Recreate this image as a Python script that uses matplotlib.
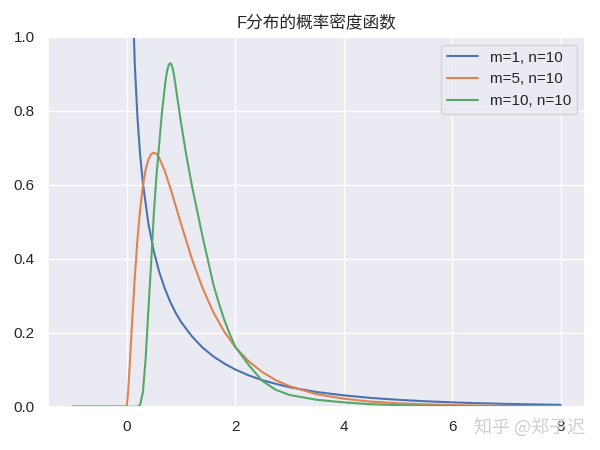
import numpy as np
import matplotlib
matplotlib.use('Agg')
import matplotlib.pyplot as plt
import seaborn as sns

sns.set_theme()
plt.rcParams['font.family'] = ['Liberation Sans', 'Noto Sans CJK SC', 'DejaVu Sans']
plt.rcParams['axes.unicode_minus'] = False

# m=1, n=10 (nan marks the gap at x=0 where the density blows up)
x_blue = [-1.0, -0.01, np.nan, 0.02, 0.05, 0.1, 0.15, 0.2, 0.25, 0.3, 0.4, 0.5, 0.6, 0.7, 0.8, 0.9,
          1.0, 1.2, 1.4, 1.6, 1.8, 2.0, 2.25, 2.5, 2.75, 3.0, 3.5, 4.0, 4.5, 5.0, 5.5,
          6.0, 6.5, 7.0, 7.5, 8.0]
y_blue = [0.0, 0.0, np.nan, 2.721, 1.693, 1.165, 0.926, 0.780, 0.679, 0.604, 0.496, 0.421, 0.365,
          0.321, 0.285, 0.255, 0.230, 0.191, 0.160, 0.136, 0.117, 0.101, 0.085, 0.072,
          0.062, 0.053, 0.040, 0.031, 0.024, 0.019, 0.015, 0.012, 0.0097, 0.0079,
          0.0065, 0.0054]

# m=5, n=10
x_orange = [-1.0, 0.0, 0.02, 0.05, 0.1, 0.15, 0.2, 0.25, 0.3, 0.35, 0.4, 0.45, 0.5, 0.55, 0.6,
            0.7, 0.8, 0.9, 1.0, 1.2, 1.4, 1.6, 1.8, 2.0, 2.25, 2.5, 2.75, 3.0, 3.5,
            4.0, 4.5, 5.0, 5.5, 6.0, 6.5, 7.0, 7.5, 8.0]
y_orange = [0.0, 0.0, 0.027, 0.096, 0.227, 0.350, 0.454, 0.536, 0.597, 0.641, 0.668, 0.683,
            0.687, 0.684, 0.673, 0.639, 0.594, 0.545, 0.496, 0.401, 0.321, 0.255, 0.203,
            0.162, 0.123, 0.094, 0.072, 0.056, 0.034, 0.022, 0.014, 0.0096, 0.0066,
            0.0046, 0.0033, 0.0024, 0.0018, 0.0013]

# m=10, n=10
x_green = [-1.0, 0.0, 0.2, 0.25, 0.3, 0.35, 0.4, 0.45, 0.5, 0.55, 0.6, 0.65, 0.7, 0.725, 0.75,
           0.775, 0.8, 0.825, 0.85, 0.875, 0.9, 0.95, 1.0, 1.05, 1.1, 1.2, 1.3, 1.4, 1.5,
           1.6, 1.7, 1.8, 1.9, 2.0, 2.25, 2.5, 2.75, 3.0, 3.5, 4.0, 4.5, 5.0, 5.5, 6.0,
           6.5, 7.0, 7.5, 8.0]
y_green = [0.0, 0.0, 0.0, 0.006, 0.04, 0.13, 0.26, 0.385, 0.52, 0.625, 0.71, 0.795, 0.86, 0.89,
           0.911, 0.924, 0.929, 0.926, 0.914, 0.895, 0.87, 0.82, 0.77, 0.725, 0.68, 0.60,
           0.53, 0.46, 0.395, 0.33, 0.28, 0.235, 0.197, 0.163, 0.113, 0.07, 0.046, 0.032,
           0.019, 0.012, 0.007, 0.0045, 0.003, 0.002, 0.0013, 0.001, 0.0007, 0.0005]

labels = ['m=1, n=10', 'm=5, n=10', 'm=10, n=10']

fig = plt.figure(figsize=(6, 4.5), dpi=100)
ax = fig.add_axes([0.08, 0.096, 0.895, 0.822])
ax.plot(x_blue, y_blue, label=labels[0])
ax.plot(x_orange, y_orange, label=labels[1])
ax.plot(x_green, y_green, label=labels[2])
ax.set_ylim(0, 1)
ax.set_xticks([0, 2, 4, 6, 8])
ax.set_title('F分布的概率密度函数', fontsize=12)
ax.legend(loc='upper right')

fig.text(0.975, 0.05, '知乎 @郑子迟', ha='right', va='center', fontsize=13,
         color='#cfcfcf', family=['Noto Sans CJK SC', 'DejaVu Sans'])

fig.savefig('out.png')
